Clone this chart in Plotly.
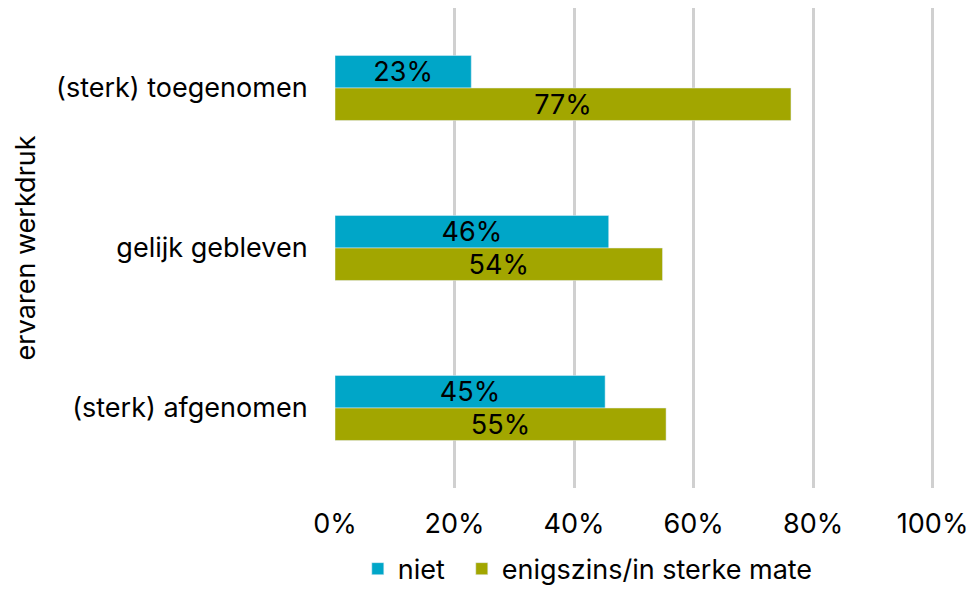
import plotly.graph_objects as go

CATEGORIES = ["(sterk) toegenomen", "gelijk gebleven", "(sterk) afgenomen"]
NIET = [22.8, 45.8, 45.2]
ENIGSZINS = [76.3, 54.8, 55.4]
NIET_LABELS = ["23%", "46%", "45%"]
ENIGSZINS_LABELS = ["77%", "54%", "55%"]
X_TICKS = [0, 20, 40, 60, 80, 100]
X_TICK_LABELS = ["0%", "20%", "40%", "60%", "80%", "100%"]

FONT = "Inter"
BLUE = "#00A6C8"
OLIVE = "#A2A600"

fig = go.Figure()
fig.add_trace(go.Bar(
    name="niet", y=CATEGORIES, x=NIET, orientation="h",
    marker=dict(color=BLUE), text=NIET_LABELS, legend="legend",
    textposition="inside", insidetextanchor="middle", textangle=0,
    constraintext="none", textfont=dict(size=27, color="black", family=FONT),
))
fig.add_trace(go.Bar(
    name="enigszins/in sterke mate", y=CATEGORIES, x=ENIGSZINS, orientation="h",
    marker=dict(color=OLIVE), text=ENIGSZINS_LABELS, legend="legend2",
    textposition="inside", insidetextanchor="middle", textangle=0,
    constraintext="none", textfont=dict(size=27, color="black", family=FONT),
))

# two legends so the gap between the entries can be set freely
legend_style = dict(orientation="h", xanchor="left", yref="paper",
                    y=-0.22, yanchor="bottom", font=dict(size=27), itemwidth=30)

fig.update_layout(
    width=977, height=590,
    margin=dict(l=335, r=42, t=8, b=102, autoexpand=False),
    barmode="group", bargap=0.594, bargroupgap=0,
    plot_bgcolor="white", paper_bgcolor="white",
    font=dict(family=FONT, size=27, color="black"),
    showlegend=True,
    legend=dict(x=0.038, **legend_style),
    legend2=dict(x=0.2113, **legend_style),
)
fig.update_xaxes(
    range=[0, 100.4], tickvals=X_TICKS, ticktext=X_TICK_LABELS,
    showgrid=True, gridcolor="#D0D0D0", gridwidth=3, zeroline=False,
    ticks="outside", ticklen=12, tickcolor="white", showline=False,
    automargin=False,
)
fig.update_yaxes(
    categoryorder="array", categoryarray=CATEGORIES, autorange="reversed",
    ticks="outside", ticklen=21, tickcolor="white", showgrid=False,
    automargin=False,
    title=dict(text="ervaren werkdruk", standoff=12, font=dict(size=27)),
)

fig.write_html("out.html", config={"displayModeBar": False},
               post_script="document.body.style.margin='0';")
